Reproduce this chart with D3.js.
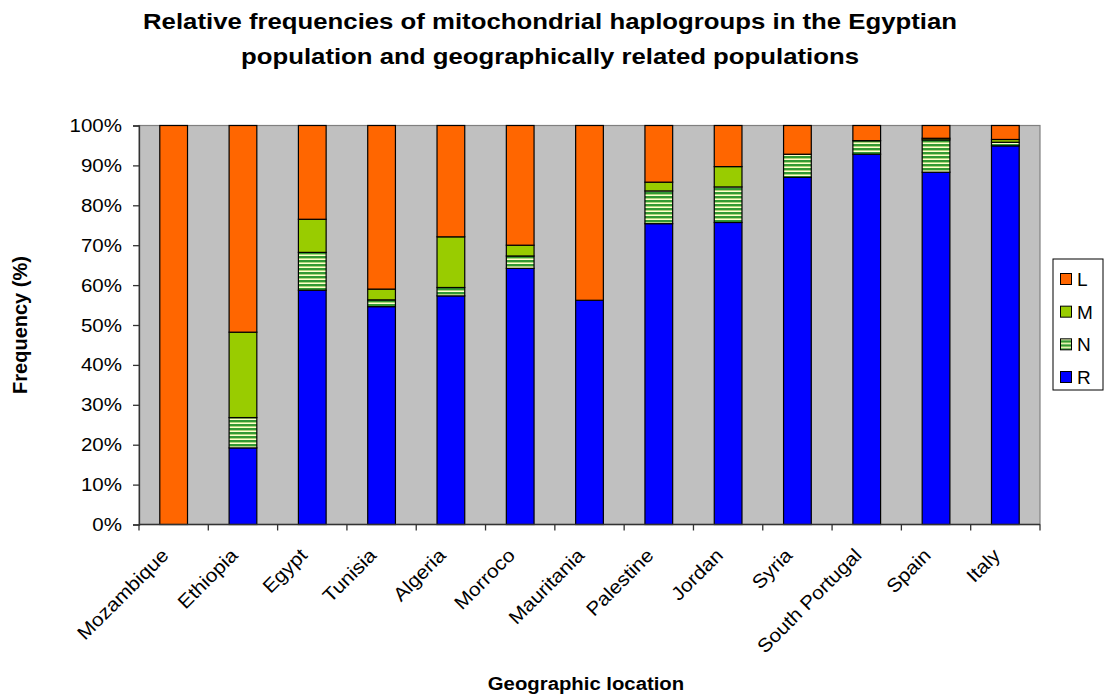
<!DOCTYPE html>
<html>
<head>
<meta charset="utf-8">
<script src="https://cdn.jsdelivr.net/npm/d3@7"></script>
<style>
  body { margin: 0; background: #fff; }
  text { font-family: "Liberation Sans", Arial, sans-serif; fill: #000; }
</style>
</head>
<body>
<svg id="chart" width="1107" height="697"></svg>
<script>
// haplogroup frequencies (%)
const categories = ["Mozambique", "Ethiopia", "Egypt", "Tunisia", "Algeria", "Morroco", "Mauritania",
                    "Palestine", "Jordan", "Syria", "South Portugal", "Spain", "Italy"];
const valuesR = [0, 19.2, 58.7, 54.6, 57.3, 64.2, 56.2, 75.4, 75.7, 87.0, 92.8, 88.3, 94.9];
const valuesN = [0, 7.6, 9.5, 1.7, 2.1, 3.1, 0, 8.2, 8.9, 5.8, 3.4, 8.1, 0.9];
const valuesM = [0, 21.4, 8.3, 2.7, 12.7, 2.7, 0, 2.2, 5.1, 0, 0, 0.4, 0.7];
const valuesL = [100, 51.8, 23.5, 41.0, 27.9, 30.0, 43.8, 14.2, 10.3, 7.2, 3.8, 3.2, 3.5];
const yTicks = [0, 10, 20, 30, 40, 50, 60, 70, 80, 90, 100];
const seriesKeys = ["R", "N", "M", "L"];

const table = categories.map((c, i) => ({
    name: c, R: valuesR[i], N: valuesN[i], M: valuesM[i], L: valuesL[i]
}));

const svg = d3.select("#chart");
const plot = { left: 139, top: 125.5, right: 1040, bottom: 524.5 };

const fills = { L: "#FF6600", M: "#99CC00", N: "url(#stripes)", R: "#0000FF" };

// striped pattern for N
const defs = svg.append("defs");
const pat = defs.append("pattern")
    .attr("id", "stripes")
    .attr("patternUnits", "userSpaceOnUse")
    .attr("width", 8).attr("height", 4);
pat.append("rect").attr("width", 8).attr("height", 4).attr("fill", "#FFFFCC");
pat.append("rect").attr("y", 0).attr("width", 8).attr("height", 2).attr("fill", "#339933");
pat.append("rect").attr("y", 2).attr("width", 8).attr("height", 0.8).attr("fill", "#99CC66");

const x = d3.scaleBand()
    .domain(categories)
    .range([plot.left, plot.right])
    .paddingInner(0.6)
    .paddingOuter(0.3);

const xEdge = d3.scaleLinear()
    .domain([0, categories.length])
    .range([plot.left, plot.right]);

const y = d3.scaleLinear()
    .domain([0, 100])
    .range([plot.bottom, plot.top]);

// plot background
svg.append("rect")
    .attr("x", plot.left).attr("y", plot.top)
    .attr("width", plot.right - plot.left)
    .attr("height", plot.bottom - plot.top)
    .attr("fill", "#C0C0C0")
    .attr("stroke", "#808080")
    .attr("stroke-width", 1.2);

// stacked bars
const stacked = d3.stack().keys(seriesKeys)(table);

svg.append("g").selectAll("g")
    .data(stacked)
    .join("g")
    .attr("fill", d => fills[d.key])
    .selectAll("rect")
    .data(d => d.filter(p => p[1] - p[0] > 0))
    .join("rect")
    .attr("x", d => x(d.data.name))
    .attr("width", x.bandwidth())
    .attr("y", d => y(d[1]))
    .attr("height", d => y(d[0]) - y(d[1]))
    .attr("stroke", "#000")
    .attr("stroke-width", 1.2);

// y axis
const yAxis = svg.append("g")
    .attr("transform", `translate(${plot.left},0)`)
    .call(d3.axisLeft(y).tickValues(yTicks).tickFormat(d => d + "%").tickSize(6).tickPadding(0));
yAxis.select(".domain").attr("stroke", "#333").attr("stroke-width", 1.3);
yAxis.selectAll(".tick line").attr("stroke", "#333").attr("stroke-width", 1.3);
yAxis.selectAll(".tick text")
    .attr("x", null)
    .attr("font-size", 19)
    .attr("font-family", "Liberation Sans, Arial, sans-serif")
    .attr("fill", "#000")
    .attr("transform", "translate(-17,0) scale(1.08,1)");

// x axis: ticks at band edges
const xAxis = svg.append("g")
    .attr("transform", `translate(0,${plot.bottom})`);
xAxis.append("line")
    .attr("x1", plot.left).attr("x2", plot.right)
    .attr("stroke", "#333").attr("stroke-width", 1.3);
xAxis.selectAll(".edge")
    .data(d3.range(categories.length + 1))
    .join("line")
    .attr("class", "edge")
    .attr("x1", d => xEdge(d)).attr("x2", d => xEdge(d))
    .attr("y1", 0).attr("y2", 6)
    .attr("stroke", "#333").attr("stroke-width", 1.3);

svg.append("g").selectAll("text")
    .data(categories)
    .join("text")
    .attr("transform", d => `translate(${x(d) + x.bandwidth() / 2 - 4},${plot.bottom + 32}) rotate(-45) scale(1.1,1)`)
    .attr("text-anchor", "end")
    .attr("font-size", 19)
    .text(d => d);

// titles
const title = svg.append("g").attr("transform", "translate(550,29) scale(1.12,1)");
title.append("text")
    .attr("text-anchor", "middle")
    .attr("font-size", 23)
    .attr("font-weight", "bold")
    .text("Relative frequencies of mitochondrial haplogroups in the Egyptian");
title.append("text")
    .attr("y", 35)
    .attr("text-anchor", "middle")
    .attr("font-size", 23)
    .attr("font-weight", "bold")
    .text("population and geographically related populations");

svg.append("text")
    .attr("transform", "translate(586,690) scale(1.07,1)")
    .attr("text-anchor", "middle")
    .attr("font-size", 19)
    .attr("font-weight", "bold")
    .text("Geographic location");

svg.append("text")
    .attr("transform", `translate(27,${(plot.top + plot.bottom) / 2}) rotate(-90)`)
    .attr("text-anchor", "middle")
    .attr("font-size", 20)
    .attr("font-weight", "bold")
    .text("Frequency (%)");

// legend
const legend = svg.append("g").attr("transform", "translate(1053,259)");
legend.append("rect")
    .attr("width", 50).attr("height", 131)
    .attr("fill", "#fff").attr("stroke", "#000").attr("stroke-width", 1);
const legendKeys = ["L", "M", "N", "R"];
const ly = d3.scalePoint().domain(legendKeys).range([20, 118]);
const li = legend.selectAll(".item")
    .data(legendKeys)
    .join("g")
    .attr("class", "item")
    .attr("transform", d => `translate(0,${ly(d)})`);
li.append("rect")
    .attr("x", 7.5).attr("y", -5.5).attr("width", 11).attr("height", 11)
    .attr("fill", d => fills[d])
    .attr("stroke", "#000").attr("stroke-width", 1);
li.append("text")
    .attr("x", 24).attr("y", 7)
    .attr("font-size", 19)
    .text(d => d);
</script>
</body>
</html>
